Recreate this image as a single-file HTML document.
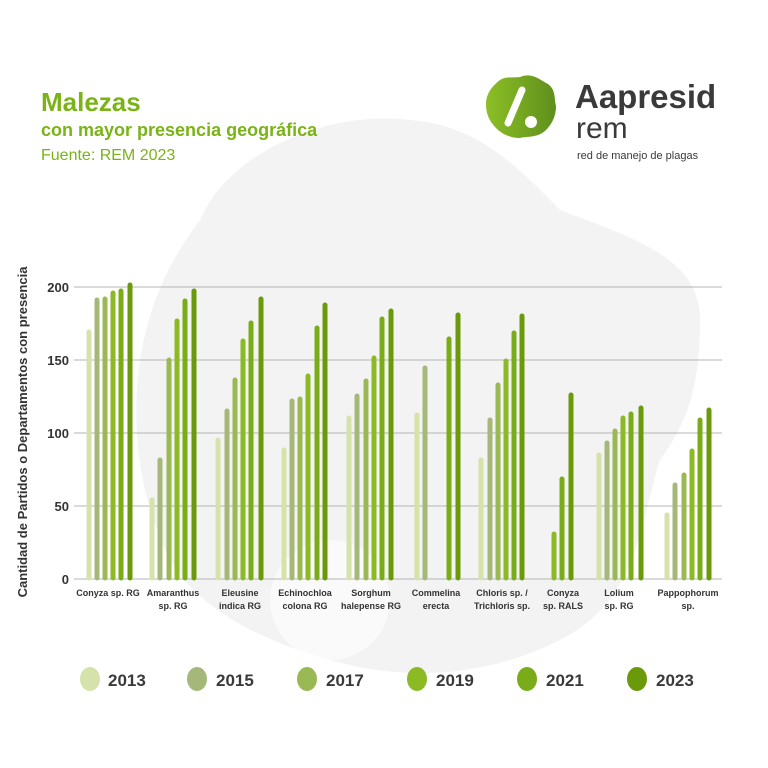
<!DOCTYPE html>
<html><head><meta charset="utf-8"><style>
html,body{margin:0;padding:0;background:#fff}
svg{display:block}
text{font-family:"Liberation Sans",sans-serif}
</style></head><body>
<svg width="768" height="768" viewBox="0 0 768 768" xmlns="http://www.w3.org/2000/svg">
<rect width="768" height="768" fill="#fff"/>
<!-- faint background blob -->
<path d="M200 220 C230 150 330 110 410 120 C480 125 520 170 560 210 C640 240 700 260 700 320 C700 380 690 420 660 460 C640 520 640 600 560 640 C480 680 400 680 330 660 C260 640 200 610 170 560 C140 500 130 430 140 360 C150 300 170 260 200 220 Z" fill="#f3f3f3"/>
<circle cx="330" cy="600" r="60" fill="#fff" opacity="0.6"/>
<!-- title -->
<text x="41" y="111" font-size="26" font-weight="bold" fill="#7ab317">Malezas</text>
<text x="41" y="136" font-size="18" font-weight="bold" fill="#7ab317">con mayor presencia geográfica</text>
<text x="41" y="160" font-size="16" fill="#7ab317">Fuente: REM 2023</text>
<!-- logo -->
<defs><linearGradient id="lg" x1="0" x2="1"><stop offset="0" stop-color="#8cbf26"/><stop offset="1" stop-color="#5f8f1c"/></linearGradient></defs>
<path d="M520 77 C532 72 540 80 548 84 C556 90 554 98 556 106 C556 116 552 124 546 130 C538 138 528 136 520 138 C510 138 502 134 496 128 C488 120 486 112 486 104 C486 94 492 86 500 80 C506 76 514 78 520 77 Z" fill="url(#lg)"/>
<line x1="522" y1="90" x2="508" y2="123" stroke="#fff" stroke-width="7" stroke-linecap="round"/>
<circle cx="531" cy="122" r="6" fill="#fff"/>
<text x="575" y="108" font-size="33" font-weight="bold" fill="#3a3a3a">Aapresid</text>
<text x="576" y="138" font-size="30" fill="#3a3a3a">rem</text>
<text x="577" y="159" font-size="11" fill="#3a3a3a">red de manejo de plagas</text>
<!-- grid -->
<g stroke="#b5b5b5" stroke-width="1">
<line x1="74" y1="287" x2="722" y2="287"/>
<line x1="74" y1="360" x2="722" y2="360"/>
<line x1="74" y1="433" x2="722" y2="433"/>
<line x1="74" y1="506" x2="722" y2="506"/>
<line x1="74" y1="579" x2="722" y2="579"/>
</g>
<g font-size="13" font-weight="bold" fill="#333" text-anchor="end">
<text x="69" y="292">200</text><text x="69" y="365">150</text><text x="69" y="438">100</text><text x="69" y="511">50</text><text x="69" y="584">0</text>
</g>
<text transform="translate(27,432) rotate(-90)" font-size="13" font-weight="bold" fill="#333" text-anchor="middle">Cantidad de Partidos o Departamentos con presencia</text>
<!-- bars -->
<g stroke-width="5" stroke-linecap="round">
<g stroke="#d5e3aa">
<line x1="89" y1="332" x2="89" y2="578"/>
<line x1="152" y1="500" x2="152" y2="578"/>
<line x1="218" y1="440" x2="218" y2="578"/>
<line x1="284" y1="450" x2="284" y2="578"/>
<line x1="349" y1="418" x2="349" y2="578"/>
<line x1="417" y1="415" x2="417" y2="578"/>
<line x1="481" y1="460" x2="481" y2="578"/>
<line x1="599" y1="455" x2="599" y2="578"/>
<line x1="667" y1="515" x2="667" y2="578"/>
</g>
<g stroke="#a5b87a">
<line x1="97" y1="300" x2="97" y2="578"/>
<line x1="160" y1="460" x2="160" y2="578"/>
<line x1="227" y1="411" x2="227" y2="578"/>
<line x1="292" y1="401" x2="292" y2="578"/>
<line x1="357" y1="396" x2="357" y2="578"/>
<line x1="425" y1="368" x2="425" y2="578"/>
<line x1="490" y1="420" x2="490" y2="578"/>
<line x1="607" y1="443" x2="607" y2="578"/>
<line x1="675" y1="485" x2="675" y2="578"/>
</g>
<g stroke="#9ab955">
<line x1="105" y1="299" x2="105" y2="578"/>
<line x1="169" y1="360" x2="169" y2="578"/>
<line x1="235" y1="380" x2="235" y2="578"/>
<line x1="300" y1="399" x2="300" y2="578"/>
<line x1="366" y1="381" x2="366" y2="578"/>
<line x1="498" y1="385" x2="498" y2="578"/>
<line x1="615" y1="431" x2="615" y2="578"/>
<line x1="684" y1="475" x2="684" y2="578"/>
</g>
<g stroke="#8bba24">
<line x1="113" y1="293" x2="113" y2="578"/>
<line x1="177" y1="321" x2="177" y2="578"/>
<line x1="243" y1="341" x2="243" y2="578"/>
<line x1="308" y1="376" x2="308" y2="578"/>
<line x1="374" y1="358" x2="374" y2="578"/>
<line x1="506" y1="361" x2="506" y2="578"/>
<line x1="554" y1="534" x2="554" y2="578"/>
<line x1="623" y1="418" x2="623" y2="578"/>
<line x1="692" y1="451" x2="692" y2="578"/>
</g>
<g stroke="#7aac1a">
<line x1="121" y1="291" x2="121" y2="578"/>
<line x1="185" y1="301" x2="185" y2="578"/>
<line x1="251" y1="323" x2="251" y2="578"/>
<line x1="317" y1="328" x2="317" y2="578"/>
<line x1="382" y1="319" x2="382" y2="578"/>
<line x1="449" y1="339" x2="449" y2="578"/>
<line x1="514" y1="333" x2="514" y2="578"/>
<line x1="562" y1="479" x2="562" y2="578"/>
<line x1="631" y1="414" x2="631" y2="578"/>
<line x1="700" y1="420" x2="700" y2="578"/>
</g>
<g stroke="#6a9a0a">
<line x1="130" y1="285" x2="130" y2="578"/>
<line x1="194" y1="291" x2="194" y2="578"/>
<line x1="261" y1="299" x2="261" y2="578"/>
<line x1="325" y1="305" x2="325" y2="578"/>
<line x1="391" y1="311" x2="391" y2="578"/>
<line x1="458" y1="315" x2="458" y2="578"/>
<line x1="522" y1="316" x2="522" y2="578"/>
<line x1="571" y1="395" x2="571" y2="578"/>
<line x1="641" y1="408" x2="641" y2="578"/>
<line x1="709" y1="410" x2="709" y2="578"/>
</g>
</g>
<!-- category labels -->
<g font-size="9" font-weight="bold" fill="#333" text-anchor="middle">
<text x="108" y="596">Conyza sp. RG</text>
<text x="173" y="596">Amaranthus</text><text x="173" y="609">sp. RG</text>
<text x="240" y="596">Eleusine</text><text x="240" y="609">indica RG</text>
<text x="305" y="596">Echinochloa</text><text x="305" y="609">colona RG</text>
<text x="371" y="596">Sorghum</text><text x="371" y="609">halepense RG</text>
<text x="436" y="596">Commelina</text><text x="436" y="609">erecta</text>
<text x="502" y="596">Chloris sp. /</text><text x="502" y="609">Trichloris sp.</text>
<text x="563" y="596">Conyza</text><text x="563" y="609">sp. RALS</text>
<text x="619" y="596">Lolium</text><text x="619" y="609">sp. RG</text>
<text x="688" y="596">Pappophorum</text><text x="688" y="609">sp.</text>
</g>
<!-- legend -->
<g font-size="17" font-weight="bold" fill="#3a3a3a">
<ellipse cx="90" cy="679" rx="10" ry="12" fill="#d5e3aa"/><text x="108" y="686">2013</text>
<ellipse cx="197" cy="679" rx="10" ry="12" fill="#a5b87a"/><text x="216" y="686">2015</text>
<ellipse cx="307" cy="679" rx="10" ry="12" fill="#9ab955"/><text x="326" y="686">2017</text>
<ellipse cx="417" cy="679" rx="10" ry="12" fill="#8bba24"/><text x="436" y="686">2019</text>
<ellipse cx="527" cy="679" rx="10" ry="12" fill="#7aac1a"/><text x="546" y="686">2021</text>
<ellipse cx="637" cy="679" rx="10" ry="12" fill="#6a9a0a"/><text x="656" y="686">2023</text>
</g>
</svg>
</body></html>
